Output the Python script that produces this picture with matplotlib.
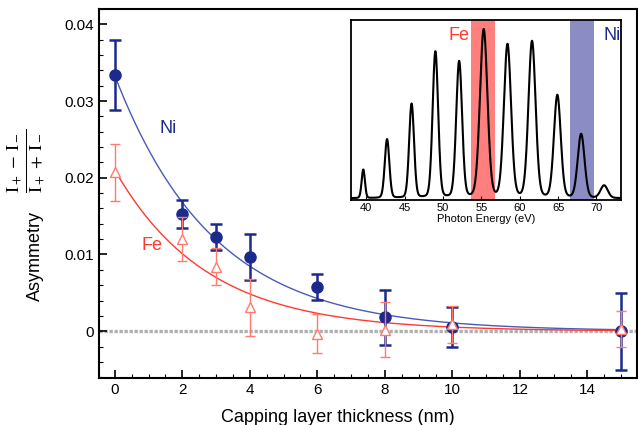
import matplotlib.pyplot as plt
import numpy as np
from matplotlib.ticker import MultipleLocator

plt.rcParams['font.family'] = ['Liberation Sans', 'DejaVu Sans']
plt.rcParams['mathtext.fontset'] = 'stix'

# capping layer thickness (nm)
thick_ni = [0, 2, 3, 4, 6, 8, 10, 15]
asym_ni = [0.0334, 0.0153, 0.0123, 0.0097, 0.0058, 0.0018, 0.0005, 0.0]
err_ni = [0.0046, 0.0018, 0.0017, 0.0030, 0.0017, 0.0036, 0.0026, 0.0050]

thick_fe = [0, 2, 3, 4, 6, 8, 10, 15]
asym_fe = [0.0207, 0.0120, 0.0084, 0.0031, -0.0003, 0.0002, 0.0009, 0.0003]
err_fe = [0.0037, 0.0029, 0.0024, 0.0037, 0.0026, 0.0036, 0.0024, 0.0023]

# exponential fits  A*exp(-d/lam)
fit_ni = (0.0333, 2.92)
fit_fe = (0.0210, 2.73)

# inset: harmonic spectrum (peak energy eV, rel. height, fwhm eV)
peak_e = [39.6, 42.7, 45.9, 49.0, 52.1, 55.3, 58.4, 61.6, 64.9, 68.0, 71.0]
peak_h = [0.17, 0.35, 0.56, 0.87, 0.81, 1.00, 0.91, 0.93, 0.61, 0.38, 0.075]
peak_w = [0.5, 0.7, 0.75, 0.85, 0.9, 1.15, 1.1, 1.1, 1.05, 1.05, 1.1]
fe_band = (53.7, 56.8)
ni_band = (66.55, 69.65)

navy = '#1b2a8c'
fit_blue = '#4a5ab8'
red = '#ff3b2f'
salmon = '#ff7a70'

fig = plt.figure(figsize=(6.38, 4.25), dpi=100)
ax = fig.add_axes([99/638, 1-378/425, 538/638, 369/425])

ax.axhline(0, color='#b0b0b0', lw=2.4, ls=(0, (1, 0.5)), zorder=1)

d = np.linspace(0, 15, 300)
ax.plot(d, fit_ni[0]*np.exp(-d/fit_ni[1]), color=fit_blue, lw=1, zorder=2)
ax.plot(d, fit_fe[0]*np.exp(-d/fit_fe[1]), color=red, lw=1, zorder=2)

ax.errorbar(thick_ni, asym_ni, yerr=err_ni, fmt='o', color=navy, ms=8,
            elinewidth=1.8, capsize=4.5, capthick=1.8, zorder=3)
ax.errorbar(thick_fe, asym_fe, yerr=err_fe, fmt='^', color=salmon, mfc='white',
            mec=salmon, ms=6.5, mew=1, elinewidth=1, capsize=3.5, capthick=1, zorder=4)

ax.text(1.58, 0.0264, 'Ni', color=navy, fontsize=13, ha='center', va='center')
ax.text(1.1, 0.0112, 'Fe', color=red, fontsize=13, ha='center', va='center')

ax.set_xlim(-0.47, 15.47)
ax.set_ylim(-0.0061, 0.042)
ax.set_xticks([0, 2, 4, 6, 8, 10, 12, 14])
ax.set_yticks([0, 0.01, 0.02, 0.03, 0.04])
ax.set_yticklabels(['0', '0.01', '0.02', '0.03', '0.04'])
ax.xaxis.set_minor_locator(MultipleLocator(0.5))
ax.yaxis.set_minor_locator(MultipleLocator(0.002))
ax.tick_params(which='both', direction='in', labelsize=11, top=False, right=False)
ax.tick_params(which='major', length=6, width=1.2)
ax.tick_params(which='minor', length=3, width=0.8)
for s in ax.spines.values():
    s.set_linewidth(1.5)

ax.set_xlabel('Capping layer thickness (nm)', fontsize=13)
ax.xaxis.set_label_coords((338-99)/538, -0.085)
fig.text(35/638, 1-256/425, 'Asymmetry', rotation=90, fontsize=13,
         ha='center', va='center')
fig.text(27/638, 1-161/425, r'$\frac{\mathrm{I}_+ \,-\, \mathrm{I}_-}{\mathrm{I}_+ \,+\, \mathrm{I}_-}$',
         rotation=90, fontsize=19, ha='center', va='center')

# inset
axi = fig.add_axes([351/638, 1-200/425, 270/638, 180/425])
e = np.linspace(38, 73.2, 1500)
spec = np.zeros_like(e)
for p, h, w in zip(peak_e, peak_h, peak_w):
    sig = w/2.355
    spec += h*(0.88*np.exp(-(e-p)**2/(2*sig**2)) + 0.12/(1+((e-p)/(w/2))**2))
axi.plot(e, spec, color='black', lw=1.5)
axi.axvspan(*fe_band, color='red', alpha=0.5, lw=0)
axi.axvspan(*ni_band, color='#1a1a8c', alpha=0.5, lw=0)
axi.text(fe_band[0]-0.3, 0.97, 'Fe', color=red, fontsize=13, ha='right', va='center')
axi.text(72.0, 0.97, 'Ni', color=navy, fontsize=13, ha='center', va='center')
axi.set_xlim(38, 73.2)
axi.set_ylim(-0.01, 1.06)
axi.set_yticks([])
axi.set_xticks([40, 45, 50, 55, 60, 65, 70])
axi.tick_params(direction='in', length=3, labelsize=8, pad=2)
axi.set_xlabel('Photon Energy (eV)', fontsize=8, labelpad=1)
for s in axi.spines.values():
    s.set_linewidth(1.3)

fig.savefig('out.png', dpi=100)
